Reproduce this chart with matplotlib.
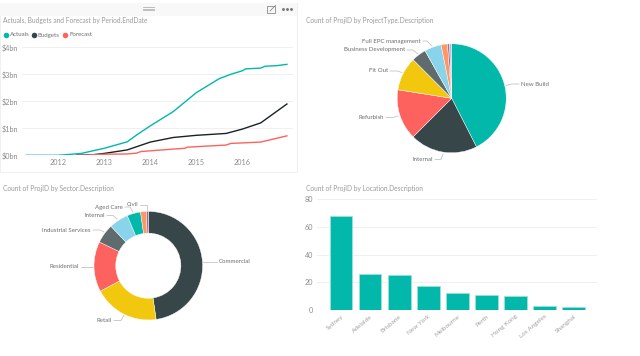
import numpy as np
import matplotlib
matplotlib.use("Agg")
import matplotlib.pyplot as plt
from matplotlib.patches import Rectangle

plt.rcParams['font.family'] = ['Lato', 'DejaVu Sans']

TEAL = '#01B8AA'
DARK = '#374649'
RED = '#FD625E'
YELLOW = '#F2C80F'
GREY = '#5F6B6D'
SKY = '#8AD4EB'
ORANGE = '#FE9666'
PURPLE = '#A66999'
TITLE_COL = '#9a9a9a'
TICK_COL = '#8c8c8c'
LABEL_COL = '#6e6e6e'

# line chart
actual_x = [2011.3, 2012.0, 2012.5, 2013.0, 2013.5, 2013.7, 2014.0, 2014.5, 2015.0, 2015.5,
            2015.75, 2016.0, 2016.07, 2016.4, 2016.5, 2016.75, 2016.97]
actuals = [0, 0.0, 0.07, 0.26, 0.5, 0.75, 1.09, 1.62, 2.32, 2.84, 3.0, 3.13, 3.2, 3.23, 3.3, 3.32, 3.37]
budget_x = [2012.4, 2012.75, 2013.0, 2013.5, 2014.0, 2014.5, 2015.0, 2015.65, 2016.0, 2016.4, 2016.97]
budgets = [0, 0.02, 0.07, 0.2, 0.49, 0.66, 0.74, 0.81, 0.97, 1.2, 1.9]
forecast_x = [2012.5, 2013.0, 2013.5, 2013.7, 2013.8, 2014.5, 2014.75, 2014.8, 2015.65, 2015.75, 2016.4, 2016.97]
forecast = [0, 0.04, 0.05, 0.08, 0.14, 0.23, 0.26, 0.3, 0.38, 0.44, 0.49, 0.72]
years = [2012, 2013, 2014, 2015, 2016]
money_ticks = [0, 1, 2, 3, 4]
money_labels = ['$0bn', '$1bn', '$2bn', '$3bn', '$4bn']

# pie
type_labels = ['New Build', 'Internal', 'Refurbish', 'Fit Out', 'Business Development',
               'Full EPC management', '', '', '']
type_counts = [68, 32, 24, 16, 7, 8, 3, 1, 1]

# donut
sector_labels = ['Commercial', 'Retail', 'Residential', 'Industrial Services', 'Internal',
                 'Aged Care', 'Civil', '']
sector_counts = [83, 34, 26, 10, 10, 7, 3, 1]

# bars
locations = ['Sydney', 'Adelaide', 'Brisbane', 'New York', 'Melbourne', 'Perth',
             'Hong Kong', 'Los Angeles', 'Shanghai']
location_counts = [68, 26, 25, 17, 12, 11, 10, 3, 2]

W, H = 640, 356


def box(x0, y0, x1, y1):
    # pixel box (y from the top) to figure fractions
    return [x0 / W, 1 - y1 / H, (x1 - x0) / W, (y1 - y0) / H]


def leader(bg, label, anchor, mid, text_xy, ha):
    bg.plot([anchor[0], mid[0], text_xy[0]], [anchor[1], mid[1], text_xy[1]],
            color='#c4c4c4', lw=0.6, solid_joinstyle='round')
    off = 2 if ha == 'left' else -2
    bg.text(text_xy[0] + off, text_xy[1], label, ha=ha, va='center', fontsize=4.4, color=LABEL_COL)


fig = plt.figure(figsize=(6.4, 3.56), dpi=100, facecolor='white')

# background layer in pixel coordinates
bg = fig.add_axes([0, 0, 1, 1])
bg.set_xlim(0, W)
bg.set_ylim(H, 0)
bg.axis('off')
bg.add_patch(Rectangle((0, 2.5), 297, 169.5, fc='white', ec='#f0f0f0', lw=0.8))
bg.add_patch(Rectangle((0, 2.5), 297, 13, fc='#f8f8f8', ec='none'))
for yy in (7.3, 8.6, 9.9):
    bg.plot([143, 153.5], [yy, yy], color='#b4b4b4', lw=0.6)
bg.add_patch(Rectangle((267, 6), 8, 6.5, fc='none', ec='#8a8a8a', lw=0.6))
bg.plot([270, 275.5], [11, 5.5], color='#8a8a8a', lw=0.6)
bg.plot([283, 287, 291], [8.7, 8.7, 8.7], ls='none', marker='o', ms=1.1, color='#777777')

bg.text(3, 20.5, 'Actuals, Budgets and Forecast by Period.EndDate', fontsize=4.75, color=TITLE_COL, va='center')
bg.text(306, 20.5, 'Count of ProjID by ProjectType.Description', fontsize=4.75, color=TITLE_COL, va='center')
bg.text(3, 188, 'Count of ProjID by Sector.Description', fontsize=4.75, color=TITLE_COL, va='center')
bg.text(306, 188, 'Count of ProjID by Location.Description', fontsize=4.75, color=TITLE_COL, va='center')

# legend of the line chart
for cx, tx, col, name in [(6, 10, TEAL, 'Actuals'), (34, 38, DARK, 'Budgets'), (65, 69, RED, 'Forecast')]:
    bg.plot([cx], [35], marker='o', ms=4, color=col, mew=0)
    bg.text(tx, 35, name, fontsize=4.4, color=LABEL_COL, va='center')

# pie leaders
leader(bg, 'New Build', (506, 85.5), (512, 84), (519, 84), 'left')
leader(bg, 'Internal', (443, 154), (441, 159.5), (435, 159.5), 'right')
leader(bg, 'Refurbish', (398, 116), (393, 117.5), (386, 117.5), 'right')
leader(bg, 'Fit Out', (402, 72.5), (397, 71), (390, 71), 'right')
leader(bg, 'Business Development', (418, 54), (413, 50), (407, 50), 'right')
leader(bg, 'Full EPC management', (432, 46), (427, 41), (423, 41), 'right')

# donut leaders
leader(bg, 'Commercial', (203, 261.5), (209, 261.5), (217, 261.5), 'left')
leader(bg, 'Retail', (124, 315), (121, 320.5), (114, 320.5), 'right')
leader(bg, 'Residential', (94, 267), (88, 267), (81, 267), 'right')
leader(bg, 'Industrial Services', (104, 232), (100, 230), (93, 230), 'right')
leader(bg, 'Internal', (117, 219), (113, 215.5), (107, 215.5), 'right')
leader(bg, 'Aged Care', (133, 212), (130, 207), (125, 207), 'right')
leader(bg, 'Civil', (147, 211), (147, 204.5), (140, 204.5), 'right')

# line chart, axis limits set so that years and $ land on the reference pixels
ax = fig.add_axes(box(22, 47.3, 293, 155.3))
ax.plot(actual_x, actuals, color=TEAL, lw=1.0)
ax.plot(budget_x, budgets, color='#1a2224', lw=1.0)
ax.plot(forecast_x, forecast, color=RED, lw=1.0)
ax.set_xlim(2012 - (58.3 - 22) / 46, 2012 + (293 - 58.3) / 46)
ax.set_ylim(0, 4)
ax.set_xticks(years)
ax.set_xticklabels(years)
ax.set_yticks(money_ticks)
ax.set_yticklabels(money_labels)
ax.grid(axis='y', color='#f0f0f0', lw=0.8)
ax.set_axisbelow(True)
ax.tick_params(length=0, labelsize=5.2, labelcolor=TICK_COL, pad=2.5)
for s in ax.spines.values():
    s.set_visible(False)
ax.patch.set_alpha(0)

# pie
ax2 = fig.add_axes(box(451.7 - 54.5, 98.3 - 54.5, 451.7 + 54.5, 98.3 + 54.5))
ax2.pie(type_counts, colors=[TEAL, DARK, RED, YELLOW, GREY, SKY, ORANGE, PURPLE, '#b9b9c4'],
        startangle=90, counterclock=False, radius=1,
        wedgeprops=dict(linewidth=0.3, edgecolor='white'))
ax2.set_xlim(-1, 1)
ax2.set_ylim(-1, 1)

# donut
ax3 = fig.add_axes(box(148.3 - 54.3, 265.7 - 54.3, 148.3 + 54.3, 265.7 + 54.3))
ax3.pie(sector_counts, colors=[DARK, YELLOW, RED, GREY, SKY, TEAL, ORANGE, PURPLE],
        startangle=90, counterclock=False, radius=1,
        wedgeprops=dict(width=0.4, linewidth=0.3, edgecolor='white'))
ax3.set_xlim(-1, 1)
ax3.set_ylim(-1, 1)

# bars
ax4 = fig.add_axes(box(317.3, 199.3, 597.3, 309.7))
pos = np.arange(len(locations))
ax4.bar(pos, location_counts, width=0.78, color=TEAL, edgecolor='#a5e0db', linewidth=0.5)
ax4.set_xlim(-0.814, 8.81)
ax4.set_ylim(0, 80)
ax4.set_yticks([0, 20, 40, 60, 80])
ax4.set_xticks(pos)
ax4.set_xticklabels(locations, rotation=40, ha='right', rotation_mode='anchor', fontsize=4.6)
ax4.grid(axis='y', color='#f0f0f0', lw=0.8)
ax4.set_axisbelow(True)
ax4.tick_params(axis='y', length=0, labelsize=5.2, labelcolor=TICK_COL, pad=3)
ax4.tick_params(axis='x', length=0, labelcolor='#a0a0a0', pad=3)
for s in ax4.spines.values():
    s.set_visible(False)
ax4.patch.set_alpha(0)

fig.savefig('out.png', dpi=100)
